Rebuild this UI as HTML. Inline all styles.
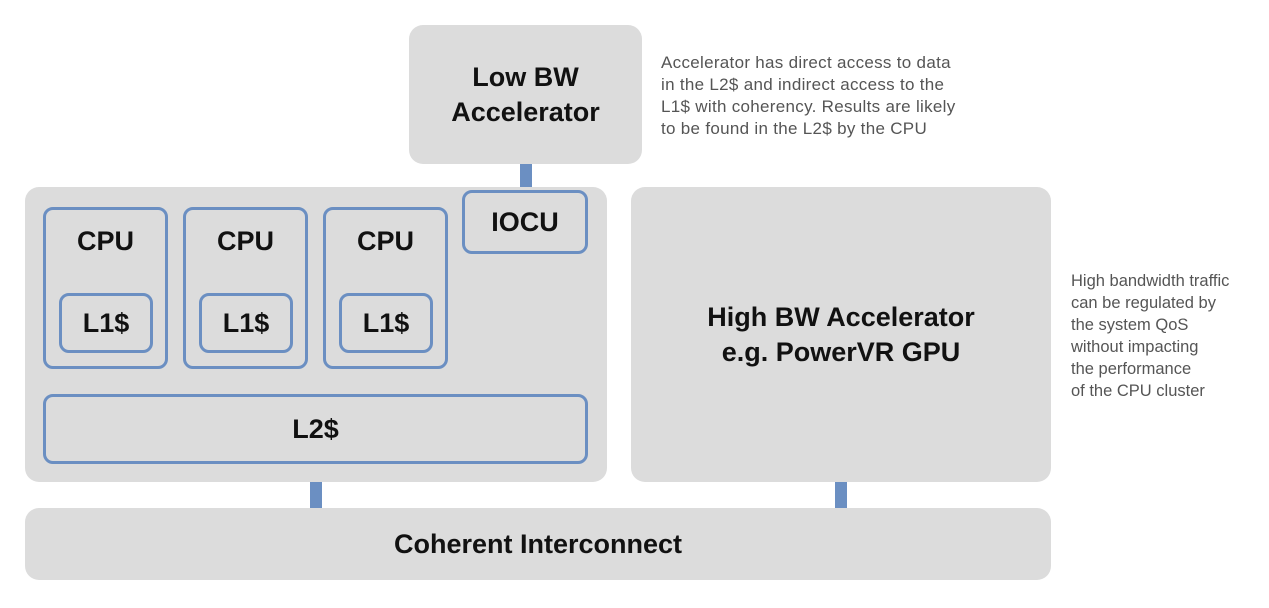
<!DOCTYPE html>
<html><head><style>
body{margin:0;width:1269px;height:608px;background:#fff;position:relative;overflow:hidden;font-family:"Liberation Sans",sans-serif}
div{position:absolute;box-sizing:border-box}
.g{background:#dcdcdc;border-radius:14px}
.b{border:3px solid #6b8fc2;border-radius:10px}
.t{font-weight:bold;color:#111;text-align:center;display:flex;align-items:center;justify-content:center}
.c{background:#6b8fc2}
.n{color:#555;font-size:16.5px;line-height:22px}
</style></head><body>
<div class="g t" style="left:409px;top:25px;width:233px;height:139px;font-size:27px;line-height:35px">Low BW<br>Accelerator</div>
<div class="c" style="left:520px;top:164px;width:12px;height:26px"></div>
<div class="n" style="left:661px;top:52px;font-size:17px;letter-spacing:0.3px">Accelerator has direct access to data<br>in the L2$ and indirect access to the<br>L1$ with coherency. Results are likely<br>to be found in the L2$ by the CPU</div>
<div class="g" style="left:25px;top:187px;width:582px;height:295px"></div>
<div class="b t" style="left:462px;top:190px;width:126px;height:64px;font-size:27px">IOCU</div>
<div class="b" style="left:43px;top:207px;width:125px;height:162px"></div>
<div class="b" style="left:183px;top:207px;width:125px;height:162px"></div>
<div class="b" style="left:323px;top:207px;width:125px;height:162px"></div>
<div class="t" style="left:43px;top:221px;width:125px;height:40px;font-size:27px">CPU</div>
<div class="t" style="left:183px;top:221px;width:125px;height:40px;font-size:27px">CPU</div>
<div class="t" style="left:323px;top:221px;width:125px;height:40px;font-size:27px">CPU</div>
<div class="b t" style="left:59px;top:293px;width:94px;height:60px;font-size:27px">L1$</div>
<div class="b t" style="left:199px;top:293px;width:94px;height:60px;font-size:27px">L1$</div>
<div class="b t" style="left:339px;top:293px;width:94px;height:60px;font-size:27px">L1$</div>
<div class="b t" style="left:43px;top:394px;width:545px;height:70px;font-size:27px">L2$</div>
<div class="g t" style="left:631px;top:187px;width:420px;height:295px;font-size:27px;line-height:35px">High BW Accelerator<br>e.g. PowerVR GPU</div>
<div class="n" style="left:1071px;top:270px">High bandwidth traffic<br>can be regulated by<br>the system QoS<br>without impacting<br>the performance<br>of the CPU cluster</div>
<div class="c" style="left:310px;top:482px;width:12px;height:26px"></div>
<div class="c" style="left:835px;top:482px;width:12px;height:26px"></div>
<div class="g t" style="left:25px;top:508px;width:1026px;height:72px;font-size:27px">Coherent Interconnect</div>
</body></html>
